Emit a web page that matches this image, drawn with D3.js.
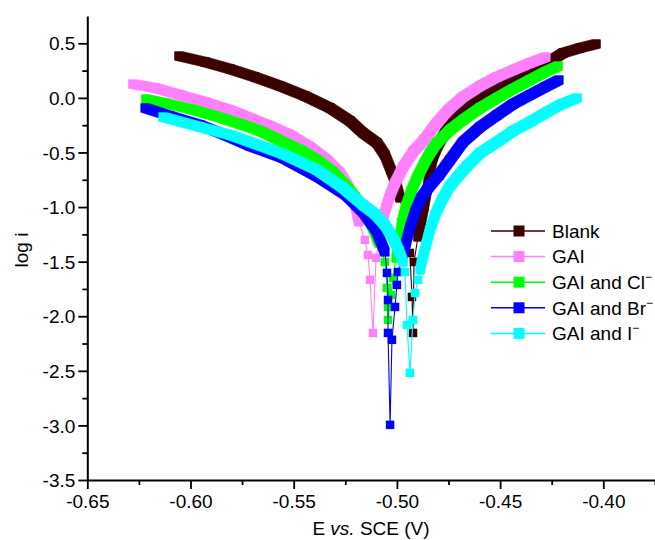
<!DOCTYPE html>
<html><head><meta charset="utf-8">
<script src="https://cdn.jsdelivr.net/npm/d3@7"></script>
<style>body{margin:0;background:#fff}svg{display:block}</style>
</head><body>
<svg id="chart" width="655" height="540"></svg>
<script>
// ---- data (E vs. SCE in V, log i) ----
const seriesNames = ["Blank", "GAI", "GAI and Cl", "GAI and Br", "GAI and I"];
const seriesSup = ["", "", "\u2212", "\u2212", "\u2212"];
const seriesColors = ["#3b0000", "#ff80ff", "#00ff00", "#0000ff", "#00ffff"];

const blankCathodic = [[-0.6056,0.384],[-0.5930,0.329],[-0.5809,0.265],[-0.5688,0.191],[-0.5566,0.109],[-0.5445,0.017],[-0.5324,-0.092],[-0.5227,-0.212],[-0.5164,-0.321],[-0.5096,-0.413],[-0.5058,-0.523],[-0.5029,-0.660],[-0.5004,-0.779],[-0.4985,-0.917]];
const blankDip = [[-0.4966,-1.072],[-0.4946,-1.255],[-0.4937,-1.420],[-0.4927,-1.823],[-0.4922,-2.153],[-0.4917,-1.503]];
const blankAnodic = [[-0.4898,-1.274],[-0.4883,-1.136],[-0.4869,-0.999],[-0.4854,-0.843],[-0.4840,-0.679],[-0.4825,-0.541],[-0.4801,-0.431],[-0.4767,-0.321],[-0.4728,-0.221],[-0.4680,-0.092],[-0.4597,0.008],[-0.4515,0.100],[-0.4437,0.173],[-0.4355,0.237],[-0.4273,0.320],[-0.4195,0.411],[-0.4113,0.457],[-0.4035,0.494]];

const gaiCathodic = [[-0.6279,0.127],[-0.6172,0.091],[-0.6051,0.027],[-0.5930,-0.038],[-0.5809,-0.111],[-0.5712,-0.184],[-0.5615,-0.257],[-0.5518,-0.340],[-0.5421,-0.450],[-0.5339,-0.569],[-0.5276,-0.688],[-0.5232,-0.825],[-0.5203,-0.981],[-0.5184,-1.136]];
const gaiDip = [[-0.5155,-1.301],[-0.5140,-1.439],[-0.5130,-1.667],[-0.5116,-2.153],[-0.5101,-1.466]];
const gaiAnodic = [[-0.5082,-1.255],[-0.5063,-1.072],[-0.5038,-0.917],[-0.5009,-0.779],[-0.4970,-0.633],[-0.4922,-0.495],[-0.4869,-0.386],[-0.4815,-0.248],[-0.4752,-0.111],[-0.4680,0.008],[-0.4597,0.109],[-0.4515,0.191],[-0.4437,0.255],[-0.4355,0.320],[-0.4278,0.375]];

const clCathodic = [[-0.6216,-0.010],[-0.6124,-0.047],[-0.6002,-0.102],[-0.5881,-0.166],[-0.5760,-0.239],[-0.5663,-0.303],[-0.5552,-0.404],[-0.5469,-0.477],[-0.5387,-0.569],[-0.5310,-0.679],[-0.5251,-0.798],[-0.5203,-0.907],[-0.5155,-1.045],[-0.5116,-1.191],[-0.5087,-1.329]];
const clDip = [[-0.5058,-1.503],[-0.5048,-1.740],[-0.5043,-1.915],[-0.5043,-2.034],[-0.5029,-1.805],[-0.5019,-1.649]];
const clAnodic = [[-0.5004,-1.466],[-0.4990,-1.301],[-0.4975,-1.136],[-0.4956,-0.990],[-0.4932,-0.862],[-0.4903,-0.733],[-0.4869,-0.605],[-0.4840,-0.505],[-0.4806,-0.413],[-0.4743,-0.294],[-0.4680,-0.202],[-0.4597,-0.092],[-0.4515,-0.001],[-0.4437,0.082],[-0.4355,0.164],[-0.4282,0.237],[-0.4219,0.292]];

const brCathodic = [[-0.6220,-0.092],[-0.6099,-0.166],[-0.5954,-0.248],[-0.5833,-0.340],[-0.5712,-0.440],[-0.5552,-0.550],[-0.5382,-0.724],[-0.5247,-0.889],[-0.5164,-1.045],[-0.5101,-1.210],[-0.5058,-1.411]];
const brDip = [[-0.5048,-1.603],[-0.5043,-1.851],[-0.5043,-2.153],[-0.5033,-2.995],[-0.5024,-2.216],[-0.5009,-1.915],[-0.5000,-1.713],[-0.4995,-1.595]];
const brAnodic = [[-0.4975,-1.466],[-0.4956,-1.329],[-0.4937,-1.191],[-0.4912,-1.045],[-0.4883,-0.917],[-0.4845,-0.816],[-0.4796,-0.706],[-0.4743,-0.569],[-0.4680,-0.404],[-0.4597,-0.266],[-0.4515,-0.157],[-0.4437,-0.056],[-0.4355,0.027],[-0.4282,0.100],[-0.4215,0.164]];

const iCathodic = [[-0.6133,-0.175],[-0.5954,-0.266],[-0.5809,-0.340],[-0.5712,-0.404],[-0.5552,-0.514],[-0.5387,-0.660],[-0.5261,-0.825],[-0.5164,-0.981],[-0.5106,-1.063],[-0.5058,-1.164],[-0.5019,-1.283],[-0.4990,-1.401],[-0.4970,-1.503]];
const iDip = [[-0.4961,-1.595],[-0.4951,-2.080],[-0.4937,-2.518],[-0.4922,-2.034],[-0.4912,-1.787],[-0.4898,-1.667]];
const iAnodic = [[-0.4888,-1.576],[-0.4878,-1.484],[-0.4859,-1.347],[-0.4840,-1.210],[-0.4815,-1.072],[-0.4782,-0.935],[-0.4743,-0.807],[-0.4694,-0.697],[-0.4660,-0.624],[-0.4597,-0.505],[-0.4515,-0.404],[-0.4437,-0.303],[-0.4355,-0.221],[-0.4273,-0.129],[-0.4200,-0.056],[-0.4127,-0.001]];

const xTicks = [-0.65, -0.60, -0.55, -0.50, -0.45, -0.40];
const xMinorTicks = [-0.625, -0.575, -0.525, -0.475, -0.425, -0.375];
const yTicks = [0.5, 0.0, -0.5, -1.0, -1.5, -2.0, -2.5, -3.0, -3.5];
const yMinorTicks = [0.25, -0.25, -0.75, -1.25, -1.75, -2.25, -2.75, -3.25];
const xTitle = ["E ", "vs.", " SCE (V)"];
const yTitle = "log i";

const series = [
  {cath: blankCathodic, dip: blankDip, anod: blankAnodic},
  {cath: gaiCathodic, dip: gaiDip, anod: gaiAnodic},
  {cath: clCathodic, dip: clDip, anod: clAnodic},
  {cath: brCathodic, dip: brDip, anod: brAnodic},
  {cath: iCathodic, dip: iDip, anod: iAnodic}
];

// ---- drawing ----
const FONT = "'Liberation Sans', Arial, Helvetica, sans-serif";
const svg = d3.select("#chart");
const x = d3.scaleLinear().domain([-0.65, -0.375]).range([87.3, 654.9]);
const y = d3.scaleLinear().domain([-3.5, 0.75]).range([480, 16]);
const MS = 8.5;

function squareHull(a, b) {
  const h = MS / 2;
  const pts = [];
  [a, b].forEach(p => {
    pts.push([p[0]-h, p[1]-h], [p[0]+h, p[1]-h], [p[0]+h, p[1]+h], [p[0]-h, p[1]+h]);
  });
  return d3.polygonHull(pts);
}

const plot = svg.append("g");
series.forEach((s, i) => {
  const col = seriesColors[i];
  const g = plot.append("g");
  const all = s.cath.concat(s.dip, s.anod).map(d => [x(d[0]), y(d[1])]);
  g.append("path").attr("d", d3.line()(all))
    .attr("fill", "none").attr("stroke", col).attr("stroke-width", 1.1);
  [s.cath, s.anod].forEach(branch => {
    const p = branch.map(d => [x(d[0]), y(d[1])]);
    for (let k = 0; k < p.length - 1; k++) {
      const hull = squareHull(p[k], p[k+1]);
      g.append("path").attr("d", "M" + hull.join("L") + "Z")
        .attr("fill", col).attr("stroke", col).attr("stroke-width", 0.6);
    }
  });
  g.selectAll("rect").data(all).join("rect")
    .attr("x", d => d[0] - MS/2).attr("y", d => d[1] - MS/2)
    .attr("width", MS).attr("height", MS).attr("fill", col);
});

// axes
const xAxisG = svg.append("g").attr("transform", "translate(0,480)");
xAxisG.append("g").call(d3.axisBottom(x).tickValues(xMinorTicks).tickSize(5).tickSizeOuter(0).tickFormat(""))
  .call(g => g.select(".domain").remove());
xAxisG.append("g").call(d3.axisBottom(x).tickValues(xTicks).tickSize(9).tickSizeOuter(0).tickFormat(d => d.toFixed(2)));
xAxisG.selectAll("line").attr("stroke", "#000").attr("stroke-width", 1.8);
xAxisG.selectAll(".domain").attr("stroke", "#000").attr("stroke-width", 2);
xAxisG.selectAll("text").attr("y", 28).attr("dy", null)
  .attr("font-family", FONT).attr("font-size", 19).attr("fill", "#000");

const yAxisG = svg.append("g").attr("transform", "translate(87.3,0)");
yAxisG.append("g").call(d3.axisLeft(y).tickValues(yMinorTicks).tickSize(5).tickSizeOuter(0).tickFormat(""))
  .call(g => g.select(".domain").remove());
yAxisG.append("g").call(d3.axisLeft(y).tickValues(yTicks).tickSize(9).tickSizeOuter(0).tickFormat(d => d.toFixed(1)));
yAxisG.selectAll("line").attr("stroke", "#000").attr("stroke-width", 1.8);
yAxisG.selectAll(".domain").attr("stroke", "#000").attr("stroke-width", 2);
yAxisG.selectAll("text").attr("x", -12).attr("dy", "0.35em")
  .attr("font-family", FONT).attr("font-size", 19).attr("fill", "#000");

// axis titles
const xt = svg.append("text").attr("x", 371).attr("y", 535).attr("text-anchor", "middle")
  .attr("font-family", FONT).attr("font-size", 19).attr("fill", "#000");
xt.append("tspan").text(xTitle[0]);
xt.append("tspan").attr("font-style", "italic").text(xTitle[1]);
xt.append("tspan").text(xTitle[2]);
svg.append("text").attr("transform", "translate(28,250) rotate(-90)").attr("text-anchor", "middle")
  .attr("font-family", FONT).attr("font-size", 19).attr("fill", "#000").text(yTitle);

// legend
const legend = svg.append("g");
seriesNames.forEach((name, i) => {
  const cy = 231 + i * 25.6;
  legend.append("line").attr("x1", 491).attr("x2", 545).attr("y1", cy).attr("y2", cy)
    .attr("stroke", seriesColors[i]).attr("stroke-width", 1.5);
  legend.append("rect").attr("x", 513.5).attr("y", cy - 5.5).attr("width", 11).attr("height", 11)
    .attr("fill", seriesColors[i]);
  const t = legend.append("text").attr("x", 552).attr("y", cy + 6.8)
    .attr("font-family", FONT).attr("font-size", 19).attr("fill", "#000").text(name);
  if (seriesSup[i]) t.append("tspan").attr("dy", -8).attr("font-size", 12).text(seriesSup[i]);
});
</script>
</body></html>
